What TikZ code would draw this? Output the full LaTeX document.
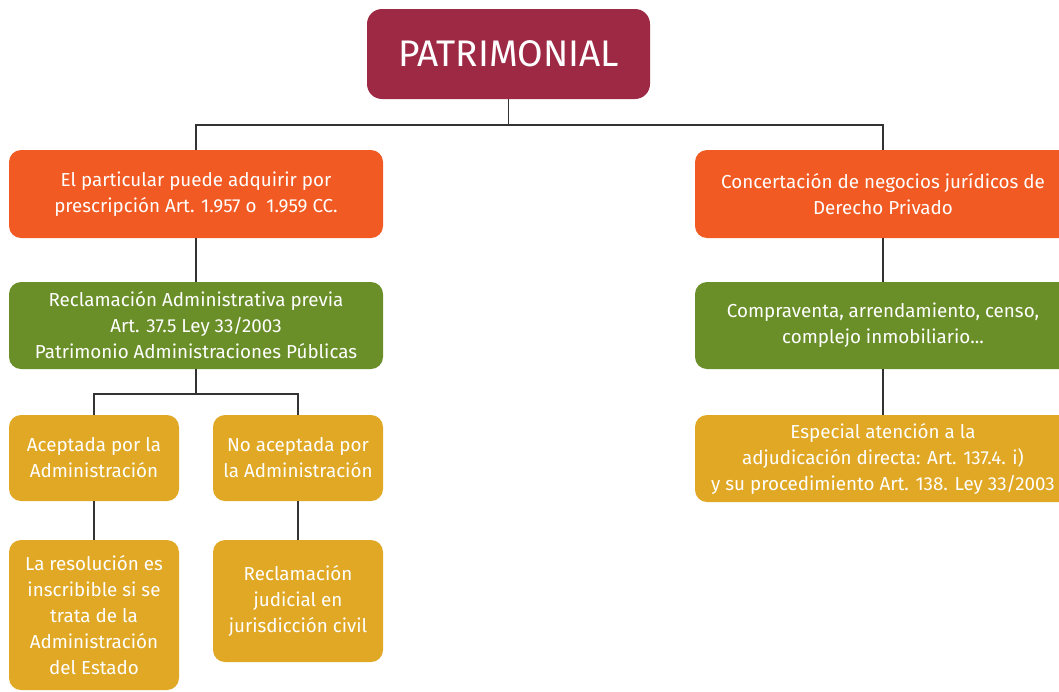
\documentclass[tikz,border=0pt]{standalone}
\usepackage{fontspec}
\setmainfont{Fira Sans}
\definecolor{cpat}{HTML}{9E2944}
\definecolor{corange}{HTML}{F15A22}
\definecolor{cgreen}{HTML}{6A8F29}
\definecolor{cyellow}{HTML}{E0A825}
\definecolor{cline}{HTML}{333333}
\tikzset{
  box/.style={rounded corners=12pt, inner sep=0pt, align=center, text=white,
    font=\fontsize{18.8}{26}\selectfont},
  conn/.style={draw=cline, line width=1.4pt},
}
\begin{document}
\begin{tikzpicture}[x=1pt,y=-1pt]
\useasboundingbox (0,0) rectangle (1059,691);
\node[box, fill=cpat, minimum width=283pt, minimum height=90pt, rounded corners=15pt,
  font=\fontsize{37}{40}\selectfont] (pat) at (508.5,54) {PATRIMONIAL};
\node[box, fill=corange, minimum width=374pt, minimum height=88pt] (o1) at (196,194)
  {El particular puede adquirir por\\prescripción Art. 1.957 o\ \ 1.959 CC.};
\node[box, fill=corange, minimum width=376pt, minimum height=88pt] (o2) at (883,194)
  {Concertación de negocios jurídicos de\\Derecho Privado};
\node[box, fill=cgreen, minimum width=374pt, minimum height=87pt] (g1) at (196,325.5)
  {Reclamación Administrativa previa\\Art. 37.5 Ley 33/2003\\Patrimonio Administraciones Públicas};
\node[box, fill=cgreen, minimum width=376pt, minimum height=87pt] (g2) at (883,325.5)
  {Compraventa, arrendamiento, censo,\\complejo inmobiliario...};
\node[box, fill=cyellow, minimum width=170pt, minimum height=86pt] (y1) at (94,458)
  {Aceptada por la\\Administración};
\node[box, fill=cyellow, minimum width=170pt, minimum height=86pt] (y2) at (298,458)
  {No aceptada por\\la Administración};
\node[box, fill=cyellow, minimum width=170pt, minimum height=150pt] (y3) at (94,615)
  {La resolución es\\inscribible si se\\trata de la\\Administración\\del Estado};
\node[box, fill=cyellow, minimum width=170pt, minimum height=122pt] (y4) at (298,601)
  {Reclamación\\judicial en\\jurisdicción civil};
\node[box, fill=cyellow, minimum width=376pt, minimum height=87pt] (y5) at (883,458.5)
  {Especial atención a la\\adjudicación directa: Art. 137.4. i)\\y su procedimiento Art. 138. Ley 33/2003};
\coordinate (bus1) at (508.5,125);
\coordinate (bus2) at (196,394);
\draw[conn] (pat.south) -- (bus1);
\draw[conn] (o1.north) |- (bus1) -| (o2.north);
\draw[conn] (o1.south) -- (g1.north);
\draw[conn] (o2.south) -- (g2.north);
\draw[conn] (g2.south) -- (y5.north);
\draw[conn] (g1.south) -- (bus2);
\draw[conn] (y1.north) |- (bus2) -| (y2.north);
\draw[conn] (y1.south) -- (y3.north);
\draw[conn] (y2.south) -- (y4.north);
\end{tikzpicture}
\end{document}
